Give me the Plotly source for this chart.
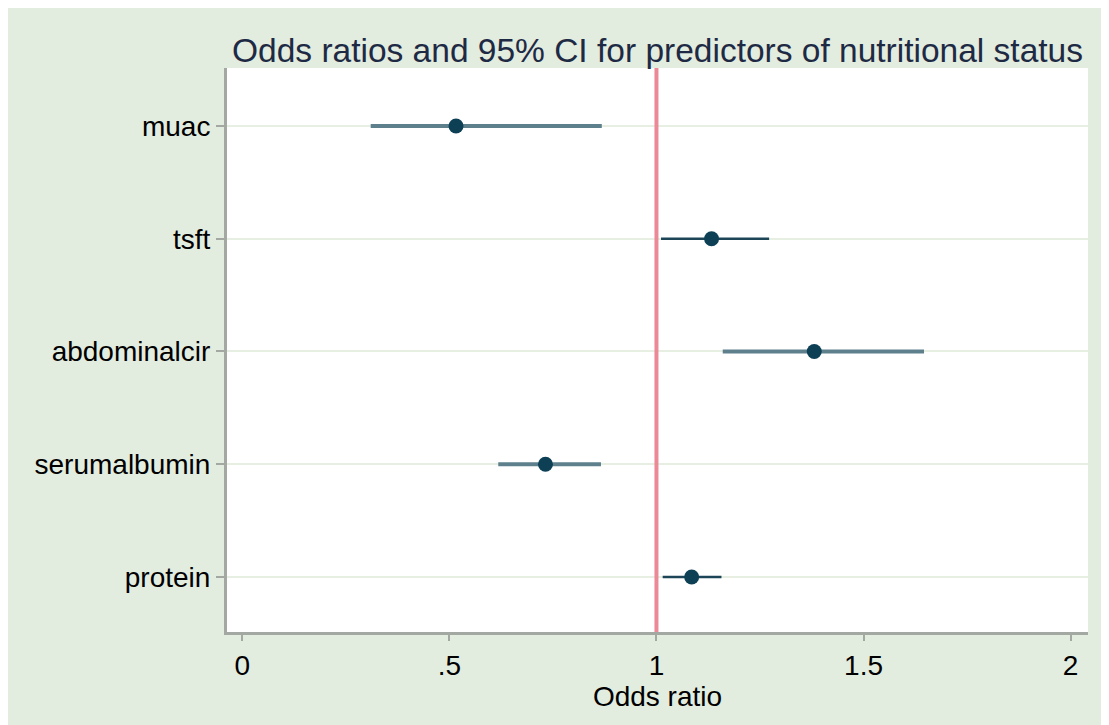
import plotly.graph_objects as go

labels = ["muac", "tsft", "abdominalcir", "serumalbumin", "protein"]
odds_ratio = [0.516, 1.133, 1.381, 0.732, 1.085]
ci_low = [0.310, 1.011, 1.160, 0.618, 1.015]
ci_high = [0.868, 1.272, 1.646, 0.866, 1.157]
x_ticks = [0, 0.5, 1, 1.5, 2]
x_ticklabels = ["0", ".5", "1", "1.5", "2"]

# page body has an 8px margin, figure starts at (8, 8)
W, H = 1101, 717
L, R, T, B = 219, 21, 60, 93
pw, ph = W - L - R, H - T - B

bg = "#e2ecdf"
line_styles = [("#5e808d", 4), ("#1c4658", 2.5), ("#5e808d", 4), ("#5e808d", 4), ("#1c4658", 2.5)]

fig = go.Figure()
for lab, lo, hi, (col, wd) in zip(labels, ci_low, ci_high, line_styles):
    fig.add_trace(go.Scatter(x=[lo, hi], y=[lab, lab], mode="lines",
                             line=dict(color=col, width=wd), showlegend=False,
                             hoverinfo="skip"))
fig.add_trace(go.Scatter(x=odds_ratio, y=labels, mode="markers",
                         marker=dict(color="#0d3f55", size=15), showlegend=False))

fig.add_shape(type="line", x0=1, x1=1, xref="x", y0=0, y1=1, yref="paper",
              line=dict(color="#ea8a97", width=4), layer="above")

fig.update_layout(
    width=W, height=H,
    margin=dict(l=L, r=R, t=T, b=B),
    paper_bgcolor=bg, plot_bgcolor="white",
    font=dict(family="Liberation Sans, Arial, sans-serif", color="black", size=28),
    title=dict(text="Odds ratios and 95% CI for predictors of nutritional status",
               x=(L + pw / 2) / W, xanchor="center", y=1 - 42 / H, yanchor="middle",
               font=dict(size=33.5, color="#1e2a44")),
    xaxis=dict(range=[-0.037, 2.042], tickvals=x_ticks, ticktext=x_ticklabels,
               showgrid=False, zeroline=False, showline=True, linecolor="#a3a8a3",
               linewidth=3, ticks="outside", ticklen=6, tickwidth=2, tickcolor="#a3a8a3",
               title=dict(text="Odds ratio", standoff=0, font=dict(size=28))),
    yaxis=dict(type="category", categoryorder="array", categoryarray=labels[::-1],
               range=[-0.488, 4.514], showgrid=True, gridcolor="#e6efe2", gridwidth=2,
               zeroline=False, showline=True, linecolor="#a3a8a3", linewidth=3,
               ticks="outside", ticklen=8, tickwidth=2, tickcolor="#a3a8a3"),
)

fig.write_html("out.html")
